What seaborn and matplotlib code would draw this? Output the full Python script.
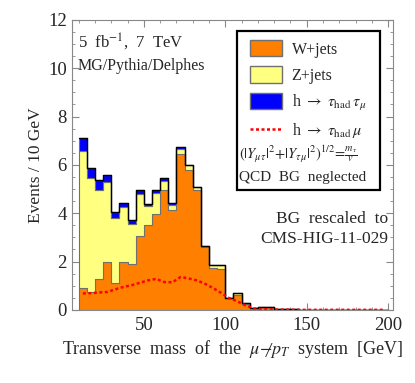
"""Stacked transverse-mass histogram: W/Z+jets backgrounds with h -> tau mu signal."""

import matplotlib
matplotlib.use("Agg")
import matplotlib.pyplot as plt
from matplotlib.lines import Line2D
from matplotlib.patches import Patch, Rectangle
from matplotlib.ticker import MultipleLocator
import numpy as np
import pandas as pd
import seaborn as sns

# 5 GeV bins from 10 to 200 GeV (left edges)
BIN_LEFT = list(range(10, 200, 5))

W_JETS = [0.90, 0.72, 1.27, 2.00, 1.11, 2.00, 1.89, 3.07, 3.51, 3.98,
          4.94, 4.12, 6.47, 5.80, 4.98, 2.60, 1.73, 1.70, 0.48, 0.62,
          0.24, 0.07, 0.10, 0.10, 0.04, 0.03, 0.03, 0.00, 0.00, 0.00,
          0.00, 0.00, 0.00, 0.00, 0.00, 0.00, 0.00, 0.00]
Z_JETS = [5.67, 4.73, 3.71, 3.31, 2.71, 2.26, 1.65, 1.74, 0.78, 0.86,
          0.41, 0.24, 0.20, 0.18, 0.10, 0.03, 0.14, 0.17, 0.00, 0.07,
          0.06, 0.01, 0.01, 0.01, 0.01, 0.00, 0.00, 0.00, 0.00, 0.00,
          0.00, 0.00, 0.00, 0.00, 0.00, 0.00, 0.00, 0.00]
H_TAUTAU = [0.53, 0.41, 0.39, 0.28, 0.22, 0.17, 0.17, 0.13, 0.11, 0.11,
            0.09, 0.05, 0.05, 0.03, 0.02, 0.00, 0.00, 0.00, 0.00, 0.00,
            0.00, 0.00, 0.00, 0.00, 0.00, 0.00, 0.00, 0.00, 0.00, 0.00,
            0.00, 0.00, 0.00, 0.00, 0.00, 0.00, 0.00, 0.00]
# signal h -> tau_had mu, at bin centres
H_TAUMU = [0.68, 0.69, 0.72, 0.74, 0.85, 0.95, 1.02, 1.12, 1.22, 1.28,
           1.15, 1.14, 1.36, 1.30, 1.22, 1.08, 0.90, 0.70, 0.48, 0.35,
           0.18, 0.06, 0.03, 0.02, 0.01, 0.01, 0.00, 0.00, 0.00, 0.00,
           0.00, 0.00, 0.00, 0.00, 0.00, 0.00, 0.00, 0.00]

BIN_WIDTH = 5
LABEL_W = "W+jets"
LABEL_Z = "Z+jets"
LABEL_HTT = r"h $\rightarrow$ $\tau_{\rm had}\,\tau_{\mu}$"
LABEL_HTM = r"h $\rightarrow$ $\tau_{\rm had}\,\mu$"

COLORS = {LABEL_W: "#FF8000", LABEL_Z: "#FFFF80", LABEL_HTT: "#0000FF"}


def main() -> None:
    sns.set_style("ticks")
    plt.rcParams["font.family"] = ["Liberation Serif", "DejaVu Serif"]
    plt.rcParams["mathtext.fontset"] = "stix"

    edges = list(range(BIN_LEFT[0], BIN_LEFT[-1] + 2 * BIN_WIDTH, BIN_WIDTH))
    centres = np.array(BIN_LEFT) + BIN_WIDTH / 2

    frames = []
    for label, vals in [(LABEL_HTT, H_TAUTAU), (LABEL_Z, Z_JETS), (LABEL_W, W_JETS)]:
        frames.append(pd.DataFrame({"mt": centres, "events": vals, "process": label}))
    df = pd.concat(frames, ignore_index=True)
    total = np.array(W_JETS) + np.array(Z_JETS) + np.array(H_TAUTAU)

    fig = plt.figure(figsize=(4.15, 3.83), dpi=100)
    ax = fig.add_axes([0.173, 0.191, 0.774, 0.757])

    sns.histplot(data=df, x="mt", weights="events", hue="process",
                 hue_order=[LABEL_HTT, LABEL_Z, LABEL_W], palette=COLORS,
                 bins=edges, multiple="stack", element="step", alpha=1,
                 edgecolor="#707070", linewidth=0.8, legend=False, ax=ax)
    sns.histplot(x=centres, weights=total, bins=edges, element="step",
                 fill=False, color="black", linewidth=1.0, ax=ax)
    sns.lineplot(x=centres, y=H_TAUMU, color="#FF0000", linewidth=1.8, ax=ax)
    ax.lines[-1].set_linestyle((0, (1.2, 1.0)))

    ax.set_xlim(5.7, 203)
    ax.set_ylim(0, 12)
    ax.xaxis.set_major_locator(MultipleLocator(50))
    ax.xaxis.set_minor_locator(MultipleLocator(10))
    ax.yaxis.set_major_locator(MultipleLocator(2))
    ax.yaxis.set_minor_locator(MultipleLocator(0.5))
    ax.tick_params(which="both", direction="in", top=True, right=True,
                   color="#888888", labelsize=13.5)
    ax.tick_params(which="major", length=5)
    ax.tick_params(which="minor", length=2.5)
    ax.tick_params(axis="x", pad=5)
    for sp in ax.spines.values():
        sp.set_color("#888888")
        sp.set_linewidth(0.8)

    ax.set_xlabel(r"Transverse  mass  of  the  $\mu$$-$$\not{p}_T$  system  [GeV]",
                  fontsize=13, labelpad=3)
    ax.set_ylabel("Events / 10 GeV", fontsize=12.5, labelpad=3)

    ax.text(0.018, 0.925, r"5  fb$^{-1}$,  7  TeV", transform=ax.transAxes,
            fontsize=12, va="center")
    ax.text(0.018, 0.84, "MG/Pythia/Delphes", transform=ax.transAxes,
            fontsize=11.5, va="center")
    ax.text(0.985, 0.315, "BG  rescaled  to", transform=ax.transAxes,
            fontsize=12.5, ha="right", va="center")
    ax.text(0.985, 0.245, "CMS-HIG-11-029", transform=ax.transAxes,
            fontsize=12.5, ha="right", va="center")

    # legend box
    ax.add_patch(Rectangle((0.514, 0.414), 0.447, 0.548, transform=ax.transAxes,
                           facecolor="white", edgecolor="black", linewidth=1.6,
                           zorder=4))
    handles = [
        Patch(facecolor=COLORS[LABEL_W], edgecolor="#707070", label=LABEL_W),
        Patch(facecolor=COLORS[LABEL_Z], edgecolor="#707070", label=LABEL_Z),
        Patch(facecolor=COLORS[LABEL_HTT], edgecolor="#707070", label=LABEL_HTT),
        Line2D([], [], color="#FF0000", linewidth=1.8, linestyle=(0, (1.2, 1.0)),
               label=LABEL_HTM),
    ]
    leg = ax.legend(handles=handles, loc="upper left",
                    bbox_to_anchor=(0.515, 0.975), frameon=False, fontsize=11.5,
                    handlelength=2.0, handleheight=1.2, labelspacing=0.55,
                    handletextpad=0.6, borderpad=0.3)
    leg.set_zorder(5)
    ax.text(0.522, 0.535,
            r"$(|Y_{\mu\tau}|^2\!+\!|Y_{\tau\mu}|^2)^{1/2}\!=\!\frac{m_\tau}{v}$",
            transform=ax.transAxes, fontsize=10.5, va="center", zorder=6)
    ax.text(0.522, 0.455, "QCD  BG  neglected", transform=ax.transAxes,
            fontsize=11, va="center", zorder=6)

    fig.savefig("out.png", dpi=100)
    plt.close(fig)


if __name__ == "__main__":
    main()
